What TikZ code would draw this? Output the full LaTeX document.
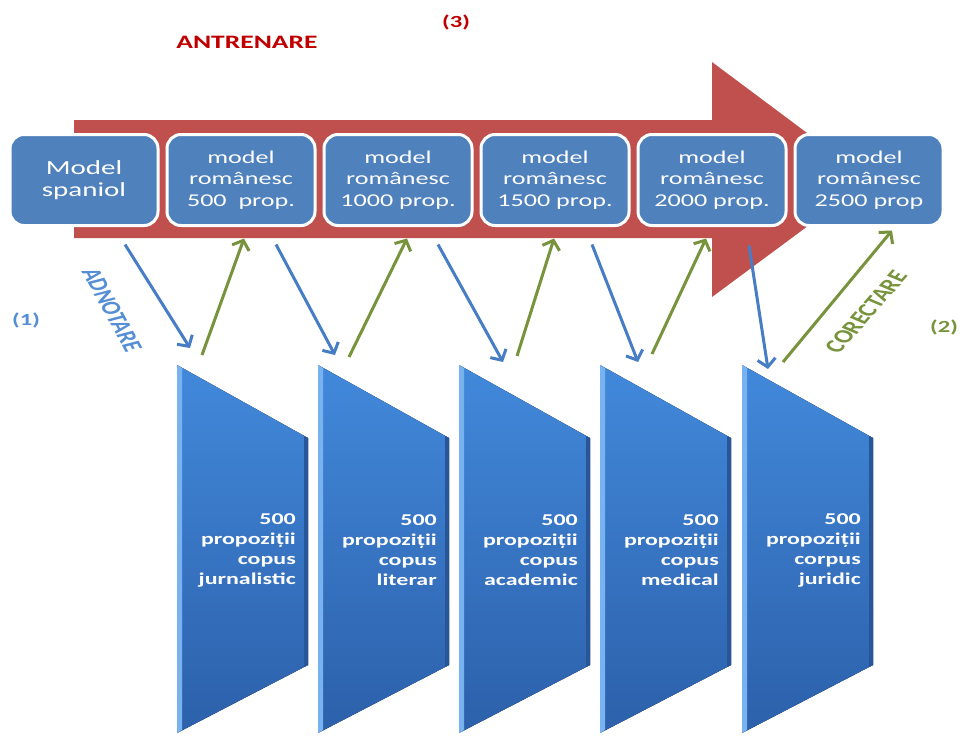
\documentclass[tikz,border=0pt]{standalone}
\usepackage{fontspec}
\setmainfont{Carlito}
\newfontfamily\latfont[FakeStretch=1.45]{Carlito}
\usepackage{tikz}
\usetikzlibrary{arrows.meta,positioning,calc}
\definecolor{rosuSageata}{RGB}{192,80,77}
\definecolor{rosuTitlu}{RGB}{192,0,0}
\definecolor{albastruModel}{RGB}{79,129,189}
\definecolor{albastruSageata}{RGB}{71,125,196}
\definecolor{albastruText}{RGB}{85,142,213}
\definecolor{verdeSageata}{RGB}{119,147,60}
\definecolor{albastruSus}{RGB}{66,137,219}
\definecolor{albastruJos}{RGB}{44,96,170}
\definecolor{albastruLumina}{RGB}{120,178,240}
\definecolor{albastruUmbra}{RGB}{40,86,152}

\begin{document}
\begin{tikzpicture}[x=1pt, y=-1pt,
  cutie/.style={draw=white, line width=3pt, fill=albastruModel, rounded corners=14pt,
    minimum width=148pt, minimum height=91pt, inner sep=0pt, outer sep=0pt,
    text=white, align=center, font=\latfont\fontsize{18}{21.5}\selectfont},
  textcorpus/.style={text=white, align=right, inner sep=0pt, anchor=east,
    font=\latfont\bfseries\fontsize{16.5}{20}\selectfont},
  corpfill/.style={top color=albastruSus, bottom color=albastruJos},
  sagAdn/.style={albastruSageata, line width=3pt, -{Straight Barb[length=8pt,width=18pt]}},
  sagCor/.style={verdeSageata, line width=3pt, -{Straight Barb[length=8pt,width=18pt]}},
  eticheta/.style={font=\latfont\bfseries\fontsize{17}{17}\selectfont, inner sep=0pt},
  inclinat/.style={font=\bfseries\fontsize{19}{19}\selectfont, inner sep=0pt, xscale=1.45}]

\useasboundingbox (0,0) rectangle (960,736);

% sageata mare (antrenare)
\fill[rosuSageata] (74,120) -- (712,120) -- (712,62) -- (870,180) -- (712,297)
  -- (712,238) -- (74,238) -- cycle;

% modele
\node[cutie, font=\latfont\fontsize{20}{22}\selectfont] (m0) at (84,180) {Model\\spaniol};
\node[cutie, right=9pt of m0] (m1) {model\\românesc\\500~ prop.};
\node[cutie, right=9pt of m1] (m2) {model\\românesc\\1000 prop.};
\node[cutie, right=9pt of m2] (m3) {model\\românesc\\1500 prop.};
\node[cutie, right=9pt of m3] (m4) {model\\românesc\\2000 prop.};
\node[cutie, right=9pt of m4] (m5) {model\\românesc\\2500 prop};

% corpusuri
\coordinate (t1) at (177,365);
\coordinate (t2) at (318,365);
\coordinate (t3) at (459,365);
\coordinate (t4) at (600,365);
\coordinate (t5) at (742,365);

\fill[corpfill] (t1) -- ++(131,73) -- ++(0,227) -- ++(-131,68) -- cycle;
\fill[corpfill] (t2) -- ++(131,73) -- ++(0,227) -- ++(-131,68) -- cycle;
\fill[corpfill] (t3) -- ++(131,73) -- ++(0,227) -- ++(-131,68) -- cycle;
\fill[corpfill] (t4) -- ++(131,73) -- ++(0,227) -- ++(-131,68) -- cycle;
\fill[corpfill] (t5) -- ++(131,73) -- ++(0,227) -- ++(-131,68) -- cycle;

\fill[albastruLumina] (t1) -- ++(5,3) -- ++(0,362) -- ++(-5,3) -- cycle;
\fill[albastruLumina] (t2) -- ++(5,3) -- ++(0,362) -- ++(-5,3) -- cycle;
\fill[albastruLumina] (t3) -- ++(5,3) -- ++(0,362) -- ++(-5,3) -- cycle;
\fill[albastruLumina] (t4) -- ++(5,3) -- ++(0,362) -- ++(-5,3) -- cycle;
\fill[albastruLumina] (t5) -- ++(5,3) -- ++(0,362) -- ++(-5,3) -- cycle;

\fill[albastruUmbra] ($(t1)+(131,73)$) -- ++(0,227) -- ++(-4,2) -- ++(0,-231) -- cycle;
\fill[albastruUmbra] ($(t2)+(131,73)$) -- ++(0,227) -- ++(-4,2) -- ++(0,-231) -- cycle;
\fill[albastruUmbra] ($(t3)+(131,73)$) -- ++(0,227) -- ++(-4,2) -- ++(0,-231) -- cycle;
\fill[albastruUmbra] ($(t4)+(131,73)$) -- ++(0,227) -- ++(-4,2) -- ++(0,-231) -- cycle;
\fill[albastruUmbra] ($(t5)+(131,73)$) -- ++(0,227) -- ++(-4,2) -- ++(0,-231) -- cycle;

\node[textcorpus] (c1) at ($(t1)+(119,185)$) {500\\propoziții\\copus\\jurnalistic};
\node[textcorpus] (c2) at ($(t2)+(119,185)$) {500\\propoziții\\copus\\literar};
\node[textcorpus] (c3) at ($(t3)+(119,185)$) {500\\propoziții\\copus\\academic};
\node[textcorpus] (c4) at ($(t4)+(119,185)$) {500\\propoziții\\copus\\medical};
\node[textcorpus] (c5) at ($(t5)+(119,185)$) {500\\propoziții\\corpus\\juridic};

% adnotare
\draw[sagAdn] ($(m0.south)+(41,19)$) -- ($(t1)+(13,-17)$);
\draw[sagAdn] ($(m1.south)+(35,19)$) -- ($(t2)+(17,-10)$);
\draw[sagAdn] ($(m2.south)+(40,19)$) -- ($(t3)+(44,-3)$);
\draw[sagAdn] ($(m3.south)+(37,19)$) -- ($(t4)+(38,-3)$);
\draw[sagAdn] ($(m4.south)+(37,20)$) -- ($(t5)+(26,4)$);

% corectare
\draw[sagCor] ($(t1)+(25,-10)$) -- ($(m1.south)+(3,13)$);
\draw[sagCor] ($(t2)+(31,-8)$) -- ($(m2.south)+(9,13)$);
\draw[sagCor] ($(t3)+(58,-9)$) -- ($(m3.south)+(-1,13)$);
\draw[sagCor] ($(t4)+(52,-11)$) -- ($(m4.south)+(-6,13)$);
\draw[sagCor] ($(t5)+(41,-3)$) -- ($(m5.south)+(23,5)$);

% etichete
\node[eticheta, rosuTitlu, font=\latfont\bfseries\fontsize{19}{19}\selectfont] (antr) at (247,42) {ANTRENARE};
\node[eticheta, rosuTitlu] (n3) at (456,22) {(3)};
\node[eticheta, albastruText] (n1) at (26,320) {(1)};
\node[eticheta, verdeSageata] (n2) at (944,327) {(2)};
\node[inclinat, albastruText, rotate=-69.3] (adn) at (112,310) {ADNOTARE};
\node[inclinat, verdeSageata, rotate=58.5] (cor) at (866,312) {CORECTARE};

\end{tikzpicture}
\end{document}
